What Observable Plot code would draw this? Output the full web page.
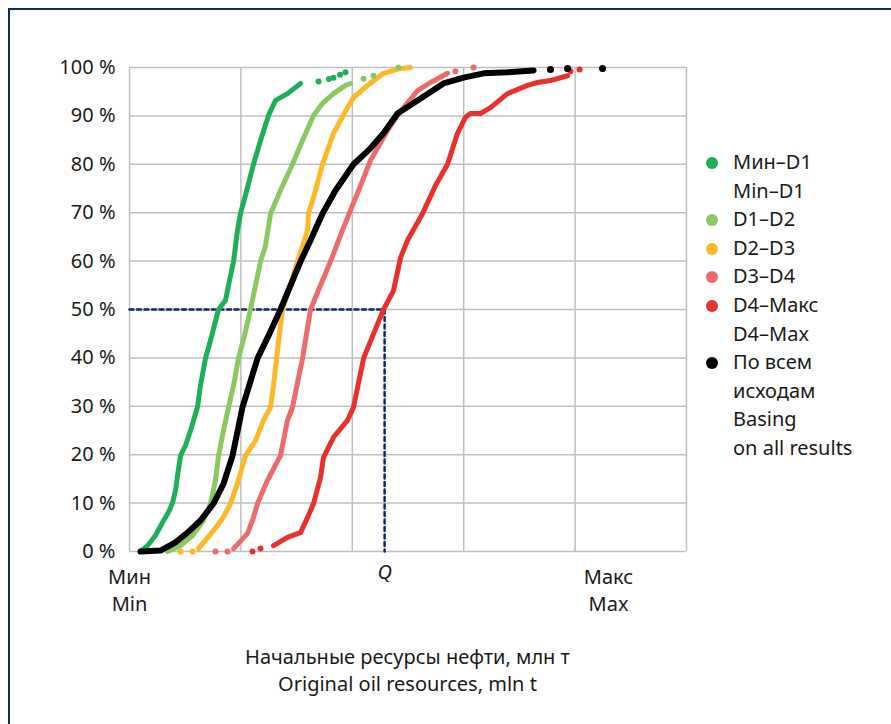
<!DOCTYPE html>
<html>
<head>
<meta charset="utf-8">
<script src="https://cdn.jsdelivr.net/npm/d3@7"></script>
<script src="https://cdn.jsdelivr.net/npm/@observablehq/plot@0.6"></script>
<style>
  html, body { margin: 0; padding: 0; background: #fff; }
  #wrap { position: relative; width: 891px; height: 724px; overflow: hidden; font-family: "Noto Sans", sans-serif; color: #1a1a1a; }
  #frame { position: absolute; left: 8px; top: 8px; right: -10px; bottom: -10px; border-top: 2px solid #0f2a5c; border-left: 2px solid #0f2a5c; }
  #chart { position: absolute; left: 0; top: 0; }
  #legend { position: absolute; left: 706px; top: 148px; font-size: 20px; line-height: 28.6px; }
  .item { display: flex; align-items: flex-start; }
  .sw { width: 12px; height: 12px; border-radius: 50%; margin-top: 9px; margin-right: 15px; flex: none; }
  #xtitle { position: absolute; left: 0; width: 815px; top: 643px; text-align: center; font-size: 20px; line-height: 27px; padding-left: 0; }
</style>
</head>
<body>
<div id="wrap">
  <div id="frame"></div>
  <div id="chart"></div>
  <div id="legend"></div>
  <div id="xtitle"></div>
</div>
<script>
// ---- data (x in relative resource units: Мин = 0 ... grid step 1; y = cumulative %) ----
const seriesNames = ["Мин–D1", "D1–D2", "D2–D3", "D3–D4", "D4–Макс", "По всем исходам"];
const legendLabels = [["Мин–D1", "Min–D1"], ["D1–D2"], ["D2–D3"], ["D3–D4"], ["D4–Макс", "D4–Max"], ["По всем", "исходам", "Basing", "on all results"]];
const seriesColors = ["#1fae5a", "#8cc862", "#fbb829", "#ec6b6d", "#e6312e", "#000000"];

const minD1X = [0.099,0.162,0.233,0.296,0.350,0.386,0.413,0.431,0.458,0.503,0.548,0.610,0.637,0.682,0.727,0.799,0.862,0.889,0.934,0.969,0.996,1.041,1.113,1.176,1.248,1.311,1.418,1.535];
const minD1Y = [0,1.2,3.3,6.0,8.1,10,12.6,15.7,19.8,21.9,25,29.8,34.3,39.9,43.6,50,51.9,55,59.9,66.3,69.8,73.6,80,84.9,90.1,93.2,94.6,96.7];
const minD1TailX = [1.697,1.790,1.831,1.890,1.939];
const minD1TailY = [97.1,97.6,97.9,98.5,99.0];

const d1d2X = [0.341,0.458,0.566,0.664,0.727,0.772,0.799,0.835,0.889,0.934,0.978,1.032,1.086,1.131,1.176,1.221,1.266,1.355,1.463,1.553,1.652,1.732,1.831,1.939,1.984];
const d1d2Y = [0,1.2,3.3,6.4,9.9,14.7,19.8,24.0,29.8,34.3,39.9,44.6,50,55,59.9,63.2,69.8,74.6,80,84.9,90.1,92.6,94.6,96.3,96.7];
const d1d2TailX = [2.101,2.190,2.415];
const d1d2TailY = [97.7,98.3,100];

const d2d3X = [0.619,0.754,0.835,0.907,0.978,1.041,1.131,1.203,1.266,1.293,1.320,1.373,1.445,1.508,1.598,1.607,1.670,1.732,1.831,1.957,2.011,2.136,2.280,2.433,2.522];
const d2d3Y = [0.6,4.3,6.8,9.9,14.7,19.8,22.9,27.1,29.8,34.3,39.9,50,55,59.9,66.3,69.8,74.6,80,86.4,91.7,93.8,96.3,98.8,99.8,100];
const d2d3TailX = [0.458,0.566];
const d2d3TailY = [0,0];

const d3d4X = [0.934,1.059,1.113,1.149,1.239,1.355,1.418,1.463,1.553,1.625,1.715,1.804,1.894,1.984,2.074,2.163,2.316,2.406,2.460,2.585,2.702,2.855];
const d3d4Y = [0.6,3.7,7.0,9.9,14.7,19.8,27.1,29.8,39.9,50,55,59.9,65.3,70.5,75.6,80.8,87.0,90.1,91.7,95.2,96.9,98.8];
const d3d4TailX = [0.772,0.880,2.926,3.088];
const d3d4TailY = [0,0,99.2,100];

const d4MaxX = [1.293,1.418,1.535,1.598,1.652,1.715,1.741,1.831,1.957,2.011,2.101,2.280,2.370,2.433,2.496,2.630,2.747,2.855,2.944,3.016,3.061,3.151,3.241,3.393,3.573,3.662,3.779,3.932];
const d4MaxY = [1.2,2.9,3.9,7.0,9.9,15.3,19.4,23.6,27.1,29.8,39.9,50,53.9,60.7,64.3,69.8,75.6,80,86.4,89.7,90.5,90.5,91.7,94.6,96.3,96.9,97.3,98.3];
const d4MaxTailX = [1.104,1.176,3.959,4.040];
const d4MaxTailY = [0,0.6,99.2,99.6];

const allX = [0.099,0.278,0.413,0.521,0.637,0.754,0.844,0.925,1.014,1.149,1.248,1.355,1.535,1.625,1.732,1.849,2.011,2.163,2.280,2.406,2.585,2.819,2.998,3.178,3.393,3.627];
const allY = [0,0.2,1.9,3.9,6.4,9.9,14.0,19.8,29.8,39.9,44.6,50,59.9,64.3,69.8,74.6,80,83.3,86.4,90.5,93.2,96.7,97.9,98.8,99.0,99.4];
const allTailX = [3.779,3.932,4.246];
const allTailY = [99.6,99.8,99.8];

const Q = 2.29;          // median of D4–Макс
const xMaxLabelPos = 4.3;
const yTicks = [0,10,20,30,40,50,60,70,80,90,100];
const xGrid = [0,1,2,3,4,5];

// ---- build tables ----
const lineXs = [minD1X, d1d2X, d2d3X, d3d4X, d4MaxX, allX];
const lineYs = [minD1Y, d1d2Y, d2d3Y, d3d4Y, d4MaxY, allY];
const tailXs = [minD1TailX, d1d2TailX, d2d3TailX, d3d4TailX, d4MaxTailX, allTailX];
const tailYs = [minD1TailY, d1d2TailY, d2d3TailY, d3d4TailY, d4MaxTailY, allTailY];
const toRows = (xs, ys, s) => xs.map((x, i) => ({x, y: ys[i], s}));
const colored = [0,1,2,3,4].flatMap(i => toRows(lineXs[i], lineYs[i], seriesNames[i]));
const black = toRows(allX, allY, seriesNames[5]);
const tails = tailXs.flatMap((xs, i) => toRows(xs, tailYs[i], seriesNames[i]));
const guide = [{x: 0, y: 50}, {x: Q, y: 50}, {x: Q, y: 0}];

const color = {domain: seriesNames, range: seriesColors};

const chart = Plot.plot({
  width: 891,
  height: 622,
  marginLeft: 129,
  marginRight: 205,
  marginTop: 67,
  marginBottom: 71,
  style: {fontFamily: "Noto Sans, sans-serif", fontSize: "20px", color: "#1a1a1a", background: "transparent"},
  x: {domain: [0, 5]},
  y: {domain: [0, 100]},
  color,
  marks: [
    Plot.gridX(xGrid, {stroke: "#bfbfbf", strokeOpacity: 1, strokeWidth: 1.5}),
    Plot.gridY(yTicks, {stroke: "#bfbfbf", strokeOpacity: 1, strokeWidth: 1.5}),
    Plot.line(guide, {x: "x", y: "y", stroke: "#0f2a5c", strokeWidth: 2.5, strokeDasharray: "4,3.5"}),
    Plot.line(colored, {x: "x", y: "y", z: "s", stroke: "s", strokeWidth: 5, strokeLinecap: "round", strokeLinejoin: "round"}),
    Plot.dot(tails.filter(d => d.s !== seriesNames[5]), {x: "x", y: "y", fill: "s", r: 3, stroke: "none"}),
    Plot.line(black, {x: "x", y: "y", stroke: "s", strokeWidth: 6, strokeLinecap: "round", strokeLinejoin: "round"}),
    Plot.dot(tails.filter(d => d.s === seriesNames[5]), {x: "x", y: "y", fill: "s", r: 3.5, stroke: "none"}),
    Plot.axisY(yTicks, {tickSize: 0, tickPadding: 14, tickFormat: d => d + " %", label: null, fontSize: 20}),
    Plot.axisX([0, xMaxLabelPos], {tickSize: 0, tickPadding: 13, tickFormat: d => d === 0 ? "Мин\nMin" : "Макс\nMax", label: null, fontSize: 20, lineHeight: 1.35}),
    Plot.axisX([Q], {tickSize: 0, tickPadding: 13, tickFormat: () => "Q", label: null, fontSize: 20, fontStyle: "italic"})
  ]
});
document.getElementById("chart").appendChild(chart);

// legend
const legend = document.getElementById("legend");
legendLabels.forEach((lines, i) => {
  const item = document.createElement("div");
  item.className = "item";
  const sw = document.createElement("span");
  sw.className = "sw";
  sw.style.background = seriesColors[i];
  const txt = document.createElement("div");
  txt.innerHTML = lines.join("<br>");
  item.appendChild(sw);
  item.appendChild(txt);
  legend.appendChild(item);
});

document.getElementById("xtitle").innerHTML = "Начальные ресурсы нефти, млн т<br>Original oil resources, mln t";
</script>
</body>
</html>
